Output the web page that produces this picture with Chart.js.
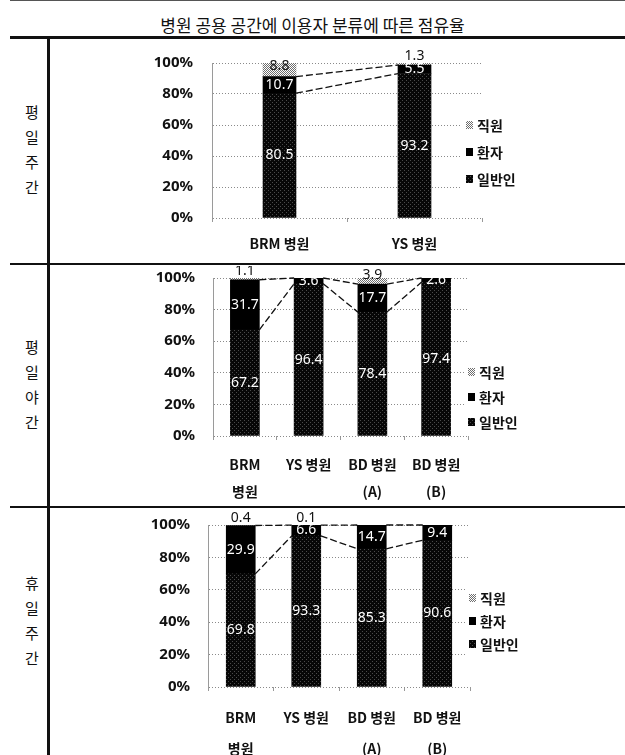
<!DOCTYPE html>
<html>
<head>
<meta charset="utf-8">
<script src="https://cdn.jsdelivr.net/npm/chart.js@4.4.1/dist/chart.umd.min.js"></script>
<style>
  html, body { margin: 0; padding: 0; background: #fff; }
  #page { position: relative; width: 625px; height: 755px; overflow: hidden; background: #fff;
          font-family: "Noto Sans CJK KR", "Noto Sans", sans-serif; color: #111; }
  .hline { position: absolute; left: 10px; right: 0; height: 2px; background: #111; }
  .vline { position: absolute; left: 47px; top: 37px; bottom: 0; width: 3px; background: #111; }
  .title { position: absolute; left: 0; top: 14px; width: 625px; text-align: center;
           font-size: 17px; line-height: 22px; }
  .rowlab { position: absolute; left: 23px; width: 18px; text-align: center;
            font-size: 15px; line-height: 25px; }
  canvas { position: absolute; }
</style>
</head>
<body>
<div id="page">
  <div class="hline" style="top:0;height:1px;background:#555;"></div>
  <div class="title" id="title"></div>
  <div class="hline" style="top:36px;height:3px;"></div>
  <div class="hline" style="top:263px;"></div>
  <div class="hline" style="top:506px;"></div>
  <div class="vline"></div>
  <div class="rowlab" id="row0" style="top:99px;"></div>
  <div class="rowlab" id="row1" style="top:334px;"></div>
  <div class="rowlab" id="row2" style="top:570px;"></div>
  <canvas id="c0" width="410" height="214" style="left:130px;top:44px;"></canvas>
  <canvas id="c1" width="410" height="236" style="left:130px;top:266px;"></canvas>
  <canvas id="c2" width="410" height="244" style="left:130px;top:511px;"></canvas>
</div>
<script>
// ---- text ----
const titleText = '병원 공용 공간에 이용자 분류에 따른 점유율';
const rowLabels = ['평일주간', '평일야간', '휴일주간'];

// ---- categories ----
const hospitalsTwo = ['BRM 병원', 'YS 병원'];
const hospitalsFour = [['BRM', '병원'], 'YS 병원', ['BD 병원', '(A)'], ['BD 병원', '(B)']];

// ---- series (share in %) ----
const seriesNames = ['일반인', '환자', '직원'];

const weekdayDayPublic  = [80.5, 93.2];
const weekdayDayPatient = [10.7, 5.5];
const weekdayDayStaff   = [8.8, 1.3];

const weekdayNightPublic  = [67.2, 96.4, 78.4, 97.4];
const weekdayNightPatient = [31.7, 3.6, 17.7, 2.6];
const weekdayNightStaff   = [1.1, 0, 3.9, 0];

const holidayDayPublic  = [69.8, 93.3, 85.3, 90.6];
const holidayDayPatient = [29.9, 6.6, 14.7, 9.4];
const holidayDayStaff   = [0.4, 0.1, 0, 0];

// ---- axis ----
const yMin = 0, yMax = 100, yStep = 20;

document.getElementById('title').textContent = titleText;
rowLabels.forEach((t, i) => {
  document.getElementById('row' + i).innerHTML = Array.from(t).join('<br>');
});

// halftone-like fills
function dotPattern(bg, dot, step, dots) {
  const c = document.createElement('canvas');
  c.width = c.height = step;
  const g = c.getContext('2d');
  g.fillStyle = bg; g.fillRect(0, 0, step, step);
  g.fillStyle = dot;
  dots.forEach(([x, y]) => g.fillRect(x, y, 1, 1));
  return g.createPattern(c, 'repeat');
}
const publicFill  = dotPattern('#070707', '#4a4a4a', 4, [[0, 0], [2, 2]]);
const patientFill = '#000000';
const staffFill   = dotPattern('#ffffff', '#6e6e6e', 2, [[0, 0], [1, 1]]);

// dashed connectors between the tops of adjoining segments
const seriesLines = {
  id: 'seriesLines',
  afterDatasetsDraw(chart) {
    const ctx = chart.ctx;
    ctx.save();
    ctx.strokeStyle = '#111';
    ctx.lineWidth = 1.3;
    ctx.setLineDash([7, 3]);
    [0, 1].forEach(di => {
      const bars = chart.getDatasetMeta(di).data;
      for (let i = 0; i < bars.length - 1; i++) {
        const a = bars[i], b = bars[i + 1];
        ctx.beginPath();
        ctx.moveTo(a.x + a.width / 2, a.y);
        ctx.lineTo(b.x - b.width / 2, b.y);
        ctx.stroke();
      }
    });
    ctx.restore();
  }
};

// value labels on the segments
const valueLabels = {
  id: 'valueLabels',
  afterDatasetsDraw(chart) {
    const ctx = chart.ctx;
    ctx.save();
    ctx.font = '14px "Noto Sans", sans-serif';
    ctx.textAlign = 'center';
    ctx.textBaseline = 'middle';
    chart.data.datasets.forEach((ds, di) => {
      chart.getDatasetMeta(di).data.forEach((bar, i) => {
        const v = ds.data[i];
        if (!v) return;
        let y = (bar.y + bar.base) / 2;
        let color = '#fff';
        if (di === 2) {
          color = '#111';
          y = v < 2 ? bar.y - 7 : (v < 5 ? bar.y - 3 : y - 4);
        }
        ctx.fillStyle = color;
        ctx.fillText(v.toFixed(1), bar.x, y);
      });
    });
    ctx.restore();
  }
};

// legend at the right edge of the plot
const sideLegend = {
  id: 'sideLegend',
  afterDraw(chart, args, opts) {
    const ctx = chart.ctx;
    const ds = chart.data.datasets;
    const order = [2, 1, 0];
    ctx.save();
    ctx.fillStyle = '#fff';
    ctx.fillRect(opts.x - 4, opts.y - 12, 90, opts.gap * 2 + 24);
    ctx.font = 'bold 14px "Noto Sans CJK KR", sans-serif';
    ctx.textAlign = 'left';
    ctx.textBaseline = 'middle';
    order.forEach((di, k) => {
      const y = opts.y + k * opts.gap;
      ctx.fillStyle = ds[di].backgroundColor;
      ctx.fillRect(opts.x, y - 4, 7, 8);
      ctx.fillStyle = '#111';
      ctx.fillText(ds[di].label, opts.x + 11, y + 1);
    });
    ctx.restore();
  }
};

function panel(id, labels, pub, pat, staff, geo) {
  const mk = (i, data, fill) => ({
    label: seriesNames[i], data, backgroundColor: fill,
    borderWidth: 0, barThickness: geo.bar
  });
  new Chart(document.getElementById(id), {
    type: 'bar',
    data: {
      labels,
      datasets: [mk(0, pub, publicFill), mk(1, pat, patientFill), mk(2, staff, staffFill)]
    },
    options: {
      responsive: false,
      animation: false,
      devicePixelRatio: 1,
      layout: { padding: { top: geo.padTop, right: geo.padRight, left: 0, bottom: 0 } },
      plugins: {
        legend: { display: false },
        tooltip: { enabled: false },
        sideLegend: geo.legend
      },
      scales: {
        x: {
          stacked: true,
          grid: { display: true, drawOnChartArea: false, drawTicks: true, tickLength: 4, color: '#999' },
          border: { display: false },
          ticks: {
            color: '#111', padding: geo.xPad, maxRotation: 0, autoSkip: false,
            font: { family: '"Noto Sans CJK KR", sans-serif', size: 14, weight: 'bold', lineHeight: geo.xLine + 'px' }
          },
          afterFit(s) { s.height = geo.xH; s.paddingLeft = 0; s.paddingRight = 0; s.paddingTop = 0; s.paddingBottom = 0; }
        },
        y: {
          stacked: true, min: yMin, max: yMax,
          grid: { color: '#8a8a8a', drawTicks: false },
          border: { display: true, color: '#9a9a9a', dash: [1, 2] },
          ticks: {
            stepSize: yStep, color: '#111', padding: geo.yPad,
            callback: v => v + '%',
            font: { family: '"Noto Sans", sans-serif', size: 15, weight: 'bold' }
          },
          afterFit(s) { s.width = geo.yW; s.paddingTop = 0; s.paddingBottom = 0; s.paddingLeft = 0; s.paddingRight = 0; }
        }
      }
    },
    plugins: [seriesLines, valueLabels, sideLegend]
  });
}

panel('c0', hospitalsTwo, weekdayDayPublic, weekdayDayPatient, weekdayDayStaff, {
  bar: 33, padTop: 19, padRight: 58, yW: 82, xH: 40, yPad: 19, xPad: 8.5, xLine: 27,
  legend: { x: 336, y: 81, gap: 27 }
});
panel('c1', hospitalsFour, weekdayNightPublic, weekdayNightPatient, weekdayNightStaff, {
  bar: 29, padTop: 12, padRight: 72, yW: 83, xH: 66, yPad: 18, xPad: 11.5, xLine: 27,
  legend: { x: 338, y: 106, gap: 25 }
});
panel('c2', hospitalsFour, holidayDayPublic, holidayDayPatient, holidayDayStaff, {
  bar: 29, padTop: 14, padRight: 70, yW: 78, xH: 68, yPad: 18, xPad: 11.5, xLine: 31,
  legend: { x: 339, y: 87, gap: 23 }
});
</script>
</body>
</html>
